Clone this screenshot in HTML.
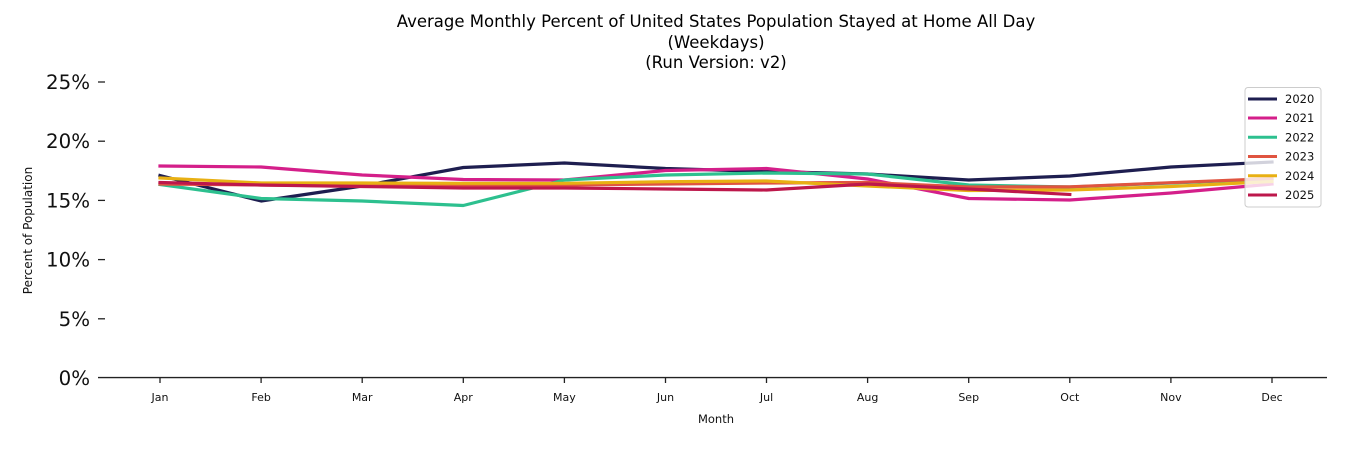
<!DOCTYPE html>
<html>
<head>
<meta charset="utf-8">
<style>
  html, body { margin: 0; padding: 0; background: #ffffff; }
  body { width: 1350px; height: 450px; overflow: hidden; }
  svg { display: block; font-family: "DejaVu Sans", "Liberation Sans", sans-serif; }
</style>
</head>
<body>
<svg width="1350" height="450" viewBox="0 0 1350 450" xmlns="http://www.w3.org/2000/svg">
  <rect x="0" y="0" width="1350" height="450" fill="#ffffff"/>

  <!-- Title -->
  <g fill="#000" font-size="16.5" text-anchor="middle">
    <text x="716" y="27">Average Monthly Percent of United States Population Stayed at Home All Day</text>
    <text x="716" y="48">(Weekdays)</text>
    <text x="716" y="68">(Run Version: v2)</text>
  </g>

  <!-- Y ticks & labels -->
  <g stroke="#222" stroke-width="1.3">
    <line x1="98" y1="82" x2="105" y2="82"/>
    <line x1="98" y1="141.2" x2="105" y2="141.2"/>
    <line x1="98" y1="200.4" x2="105" y2="200.4"/>
    <line x1="98" y1="259.6" x2="105" y2="259.6"/>
    <line x1="98" y1="318.8" x2="105" y2="318.8"/>
  </g>
  <g fill="#111" font-size="19.8" text-anchor="end">
    <text x="90" y="89">25%</text>
    <text x="90" y="148.2">20%</text>
    <text x="90" y="207.4">15%</text>
    <text x="90" y="266.6">10%</text>
    <text x="90" y="325.8">5%</text>
    <text x="90" y="385">0%</text>
  </g>

  <!-- Y label -->
  <text x="0" y="0" font-size="12" fill="#111" text-anchor="middle" transform="translate(32,230.5) rotate(-90)">Percent of Population</text>

  <!-- X axis -->
  <line x1="98" y1="377.6" x2="1327" y2="377.6" stroke="#222" stroke-width="1.4"/>
  <g stroke="#222" stroke-width="1.3">
    <line x1="160" y1="378" x2="160" y2="383"/>
    <line x1="261.1" y1="378" x2="261.1" y2="383"/>
    <line x1="362.2" y1="378" x2="362.2" y2="383"/>
    <line x1="463.3" y1="378" x2="463.3" y2="383"/>
    <line x1="564.4" y1="378" x2="564.4" y2="383"/>
    <line x1="665.5" y1="378" x2="665.5" y2="383"/>
    <line x1="766.5" y1="378" x2="766.5" y2="383"/>
    <line x1="867.6" y1="378" x2="867.6" y2="383"/>
    <line x1="968.7" y1="378" x2="968.7" y2="383"/>
    <line x1="1069.8" y1="378" x2="1069.8" y2="383"/>
    <line x1="1170.9" y1="378" x2="1170.9" y2="383"/>
    <line x1="1272" y1="378" x2="1272" y2="383"/>
  </g>
  <g fill="#111" font-size="11" text-anchor="middle">
    <text x="160" y="401">Jan</text>
    <text x="261.1" y="401">Feb</text>
    <text x="362.2" y="401">Mar</text>
    <text x="463.3" y="401">Apr</text>
    <text x="564.4" y="401">May</text>
    <text x="665.5" y="401">Jun</text>
    <text x="766.5" y="401">Jul</text>
    <text x="867.6" y="401">Aug</text>
    <text x="968.7" y="401">Sep</text>
    <text x="1069.8" y="401">Oct</text>
    <text x="1170.9" y="401">Nov</text>
    <text x="1272" y="401">Dec</text>
  </g>
  <text x="716" y="423" font-size="11.5" fill="#111" text-anchor="middle">Month</text>

  <!-- Series -->
  <g fill="none" stroke-width="3.2" stroke-linejoin="round" stroke-linecap="square">
    <polyline stroke="#1e1e50" points="160,175.5 261.1,201 362.2,186 463.3,167.5 564.4,163 665.5,168.5 766.5,171.5 867.6,174 968.7,180 1069.8,176 1170.9,167 1272,162"/>
    <polyline stroke="#d41f8a" points="160,166 261.1,167 362.2,175 463.3,179.5 564.4,180 665.5,170.5 766.5,168.5 867.6,179 968.7,198.5 1069.8,200 1170.9,193 1272,184"/>
    <polyline stroke="#2dc08f" points="160,184.5 261.1,198.5 362.2,201 463.3,205.5 564.4,180 665.5,175 766.5,173 867.6,174 968.7,185 1069.8,187 1170.9,183 1272,179"/>
    <polyline stroke="#e05440" points="160,184 261.1,185 362.2,186 463.3,185.5 564.4,185 665.5,184 766.5,183 867.6,182.5 968.7,187 1069.8,186.8 1170.9,182.7 1272,178.5"/>
    <polyline stroke="#e8b013" points="160,178 261.1,183 362.2,183 463.3,183.3 564.4,183.3 665.5,181.7 766.5,181 867.6,186 968.7,190.5 1069.8,190 1170.9,186.5 1272,181.5"/>
    <polyline stroke="#bd174b" points="160,182.5 261.1,185 362.2,186.5 463.3,188 564.4,188 665.5,189 766.5,190 867.6,184 968.7,189 1069.8,194.5"/>
  </g>

  <!-- Legend -->
  <rect x="1245" y="87.5" width="76" height="119.5" rx="3" ry="3" fill="#ffffff" fill-opacity="0.8" stroke="#cccccc" stroke-width="1"/>
  <g stroke-width="3">
    <line x1="1248" y1="99" x2="1277" y2="99" stroke="#1e1e50"/>
    <line x1="1248" y1="118" x2="1277" y2="118" stroke="#d41f8a"/>
    <line x1="1248" y1="137.3" x2="1277" y2="137.3" stroke="#2dc08f"/>
    <line x1="1248" y1="156.5" x2="1277" y2="156.5" stroke="#e05440"/>
    <line x1="1248" y1="175.8" x2="1277" y2="175.8" stroke="#e8b013"/>
    <line x1="1248" y1="195" x2="1277" y2="195" stroke="#bd174b"/>
  </g>
  <g fill="#111" font-size="11.5">
    <text x="1285" y="103">2020</text>
    <text x="1285" y="122">2021</text>
    <text x="1285" y="141.3">2022</text>
    <text x="1285" y="160.5">2023</text>
    <text x="1285" y="179.8">2024</text>
    <text x="1285" y="199">2025</text>
  </g>
</svg>
</body>
</html>
